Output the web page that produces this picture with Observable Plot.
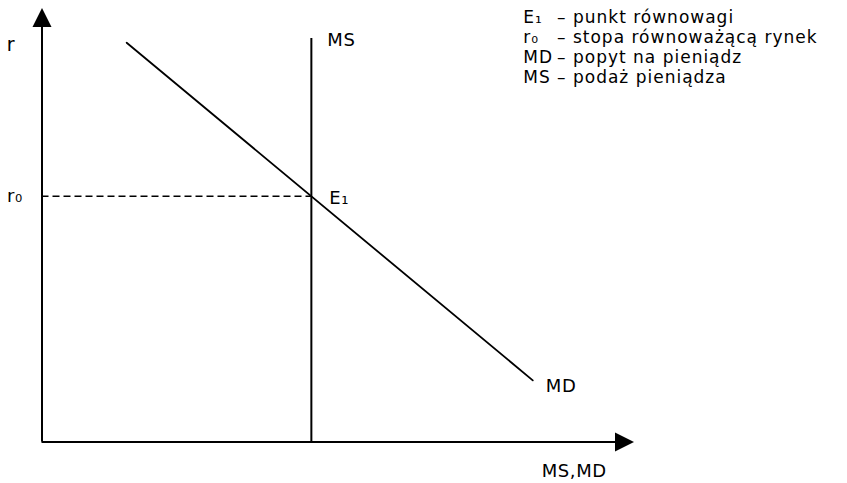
<!DOCTYPE html>
<html>
<head>
<meta charset="utf-8">
<script src="https://cdn.jsdelivr.net/npm/d3@7"></script>
<script src="https://cdn.jsdelivr.net/npm/@observablehq/plot@0.6"></script>
<style>
  html, body { margin: 0; padding: 0; background: #fff; }
  svg { display: block; }
  #chart text { letter-spacing: 0.6px; }
  #chart g.legend text { letter-spacing: 1px; }
</style>
</head>
<body>
<div id="chart"></div>
<script>
// ---- data (abstract units: 0..100 on both axes) ----
const msX = 45.5;            // money supply (vertical line)
const msTop = 93;            // top of MS line
const mdStart = {x: 14.3, y: 92};   // money demand line, start
const mdEnd = {x: 82.9, y: 14.2};   // money demand line, end
const axisMax = 100;

// equilibrium: intersection of MS and MD
const r0 = mdStart.y + (msX - mdStart.x) * (mdEnd.y - mdStart.y) / (mdEnd.x - mdStart.x);

const legendKeys = ["E\u2081", "r\u2080", "MD", "MS"];
const legendDescs = ["– punkt równowagi", "– stopa równoważącą rynek", "– popyt na pieniądz", "– podaż pieniądza"];

const mdLine = [mdStart, mdEnd];

// arrowhead symbol: tip at origin, pointing up
const arrowHead = {
  draw(ctx) {
    ctx.moveTo(0, 0);
    ctx.lineTo(9.5, 19);
    ctx.lineTo(-9.5, 19);
    ctx.closePath();
  }
};

const font = "DejaVu Sans";
const legendTop = 97.8, legendStep = 4.6;

const chart = Plot.plot({
  width: 847,
  height: 483,
  margin: 0,
  x: {domain: [0, axisMax], range: [41.5, 633.5], axis: null},
  y: {domain: [0, axisMax], range: [441.5, 7.5], axis: null},
  style: {fontFamily: font, fontSize: "18px", color: "black", background: "white"},
  marks: [
    // axes
    Plot.ruleX([0], {y1: 0, y2: axisMax - 2, stroke: "black", strokeWidth: 2}),
    Plot.ruleY([0], {x1: 0, x2: axisMax - 2, stroke: "black", strokeWidth: 2}),
    Plot.dot([{x: 0, y: axisMax}], {x: "x", y: "y", symbol: arrowHead, fill: "black", stroke: "none"}),
    Plot.dot([{x: axisMax, y: 0}], {x: "x", y: "y", symbol: arrowHead, rotate: 90, fill: "black", stroke: "none"}),
    // dashed r0 line
    Plot.ruleY([r0], {x1: 0, x2: msX, stroke: "black", strokeWidth: 1.5, strokeDasharray: "7,4"}),
    // MS
    Plot.ruleX([msX], {y1: 0, y2: msTop, stroke: "black", strokeWidth: 2}),
    // MD
    Plot.line(mdLine, {x: "x", y: "y", stroke: "black", strokeWidth: 1.8}),
    // labels
    Plot.text(["r"], {x: 0, y: 91.5, dx: -31, fontSize: 19, fill: "black"}),
    Plot.text(["r\u2080"], {x: 0, y: r0, dx: -35, dy: 0, textAnchor: "start", fontSize: 18, fill: "black"}),
    Plot.text(["MS"], {x: msX, y: msTop, dx: 16, dy: 2, textAnchor: "start", fill: "black"}),
    Plot.text(["E\u2081"], {x: msX, y: r0, dx: 18, dy: 2, textAnchor: "start", fill: "black"}),
    Plot.text(["MD"], {x: mdEnd.x, y: mdEnd.y, dx: 13, dy: 6, textAnchor: "start", fill: "black"}),
    Plot.text(["MS,MD"], {x: 89.9, y: 0, dy: 29, fill: "black"}),
    // legend
    Plot.text(legendKeys, {x: 81.3, y: (d, i) => legendTop - i * legendStep, text: d => d, textAnchor: "start", fontSize: 17, fill: "black", className: "legend"}),
    Plot.text(legendDescs, {x: 87.0, y: (d, i) => legendTop - i * legendStep, text: d => d, textAnchor: "start", fontSize: 17, fill: "black", className: "legend"})
  ]
});
document.getElementById("chart").append(chart);
</script>
</body>
</html>
